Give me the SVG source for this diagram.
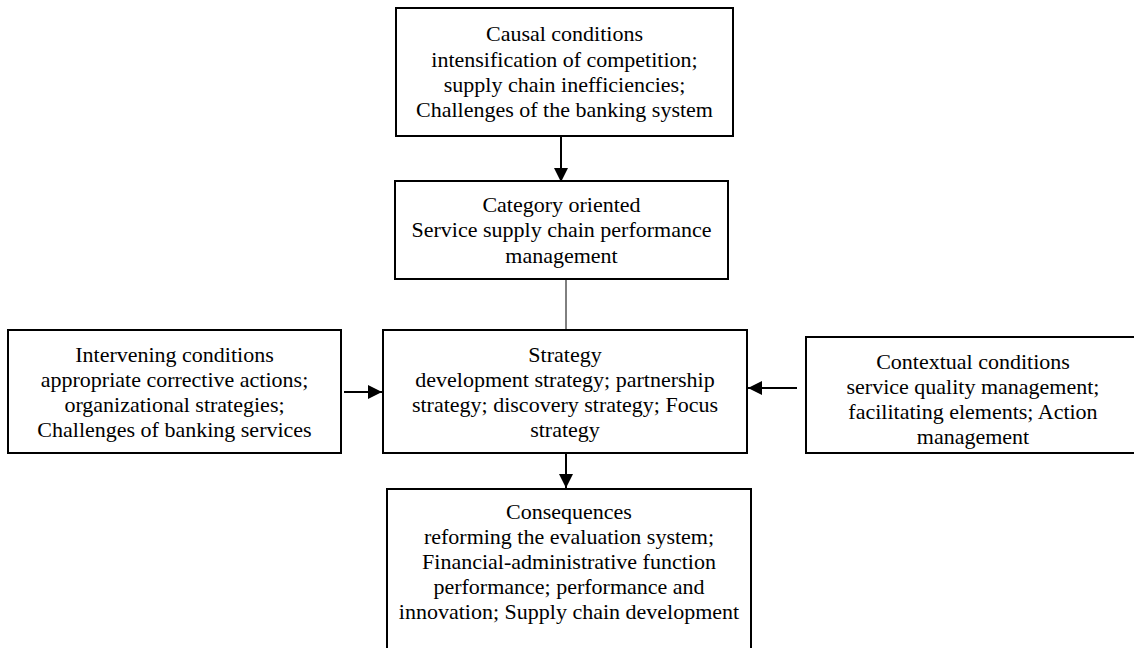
<svg xmlns="http://www.w3.org/2000/svg" width="1134" height="648" viewBox="0 0 1134 648">
<defs>
<marker id="ah" viewBox="0 0 10 10" refX="10" refY="5" markerWidth="7" markerHeight="7" markerUnits="strokeWidth" orient="auto">
<path d="M0,0 L10,5 L0,10 z" fill="#000"/>
</marker>
<style>
.box{fill:#fff;stroke:#000;stroke-width:2}
.t{font-family:"Liberation Serif","Times New Roman",serif;font-size:22px;fill:#000;text-anchor:middle}
.c{stroke:#000;stroke-width:2;fill:none}
.thin{stroke:#000;stroke-width:1;fill:none}
</style>
</defs>
<rect width="1134" height="648" fill="#fff"/>
<g id="connectors">
<line class="c" x1="561" y1="136" x2="561" y2="182" marker-end="url(#ah)"/>
<line class="thin" x1="566" y1="279" x2="566" y2="331"/>
<line class="c" x1="344" y1="392" x2="382" y2="392" marker-end="url(#ah)"/>
<line class="c" x1="797" y1="388" x2="748" y2="388" marker-end="url(#ah)"/>
<line class="c" x1="566" y1="453" x2="566" y2="488" marker-end="url(#ah)"/>
</g>
<g id="causal">
<rect class="box" x="396" y="8" width="337" height="128"/>
<text class="t" x="564.5" y="41">Causal conditions</text>
<text class="t" x="564.5" y="66.5">intensification of competition;</text>
<text class="t" x="564.5" y="92">supply chain inefficiencies;</text>
<text class="t" x="564.5" y="117">Challenges of the banking system</text>
</g>
<g id="category">
<rect class="box" x="395" y="181" width="333" height="98"/>
<text class="t" x="561.5" y="212">Category oriented</text>
<text class="t" x="561.5" y="237">Service supply chain performance</text>
<text class="t" x="561.5" y="263">management</text>
</g>
<g id="intervening">
<rect class="box" x="8" y="330" width="333" height="123"/>
<text class="t" x="174.5" y="362">Intervening conditions</text>
<text class="t" x="174.5" y="387">appropriate corrective actions;</text>
<text class="t" x="174.5" y="412">organizational strategies;</text>
<text class="t" x="174.5" y="437">Challenges of banking services</text>
</g>
<g id="strategy">
<rect class="box" x="383" y="330" width="364" height="123"/>
<text class="t" x="565" y="362">Strategy</text>
<text class="t" x="565" y="387">development strategy; partnership</text>
<text class="t" x="565" y="412">strategy; discovery strategy; Focus</text>
<text class="t" x="565" y="437">strategy</text>
</g>
<g id="contextual">
<rect class="box" x="806" y="337" width="334" height="116"/>
<text class="t" x="973" y="369">Contextual conditions</text>
<text class="t" x="973" y="394">service quality management;</text>
<text class="t" x="973" y="419">facilitating elements; Action</text>
<text class="t" x="973" y="444">management</text>
</g>
<g id="consequences">
<rect class="box" x="387" y="489" width="364" height="175"/>
<text class="t" x="569" y="519">Consequences</text>
<text class="t" x="569" y="544">reforming the evaluation system;</text>
<text class="t" x="569" y="569">Financial-administrative function</text>
<text class="t" x="569" y="594">performance; performance and</text>
<text class="t" x="569" y="619">innovation; Supply chain development</text>
</g>
</svg>
